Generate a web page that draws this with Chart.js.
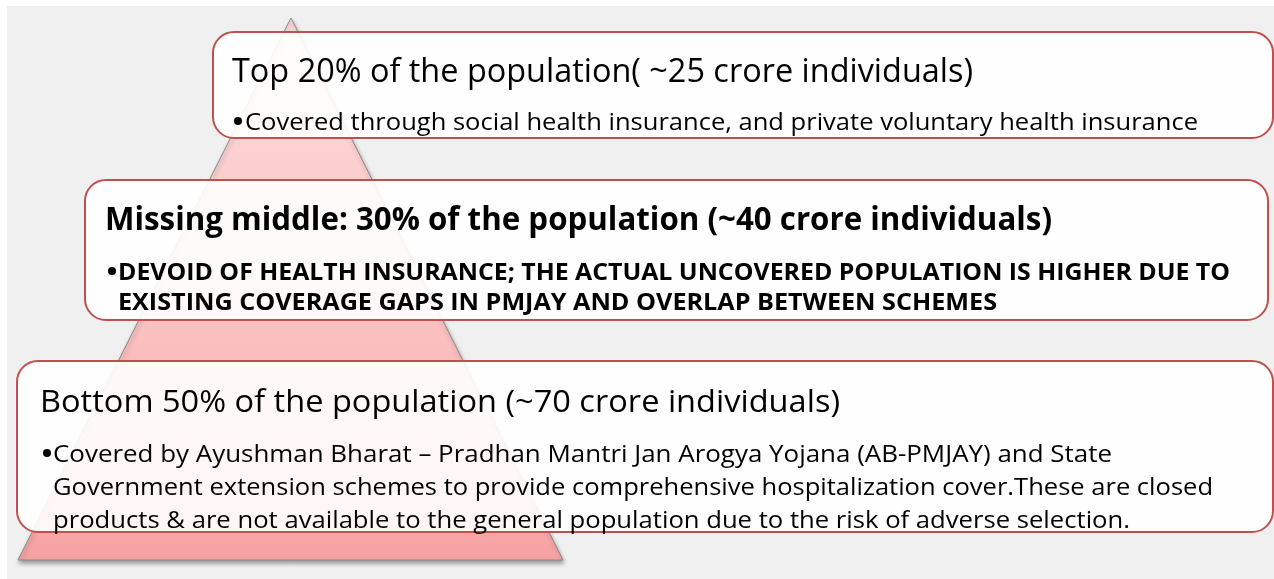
<!DOCTYPE html>
<html>
<head>
<meta charset="utf-8">
<script src="https://cdn.jsdelivr.net/npm/chart.js@4.4.1/dist/chart.umd.min.js"></script>
<style>
  html, body { margin: 0; padding: 0; background: #ffffff; }
  #wrap { width: 1274px; height: 579px; }
</style>
</head>
<body>
<div id="wrap"><canvas id="chart" width="1274" height="579"></canvas></div>
<script>
// Tiers of the population, top to bottom
const tierShare = [20, 30, 50];      // % of population
const tierCrore = [25, 40, 70];      // ~crore individuals
const tierTitles = [
    'Top 20% of the population( ~25 crore individuals)',
    'Missing middle: 30% of the population (~40 crore individuals)',
    'Bottom 50% of the population (~70 crore individuals)'
];
const tierBullets = [
    ['Covered through social health insurance, and private voluntary health insurance'],
    ['DEVOID OF HEALTH INSURANCE; THE ACTUAL UNCOVERED POPULATION IS HIGHER DUE TO',
     'EXISTING COVERAGE GAPS IN PMJAY AND OVERLAP BETWEEN SCHEMES'],
    ['Covered by Ayushman Bharat \u2013 Pradhan Mantri Jan Arogya Yojana (AB-PMJAY) and State',
     'Government extension schemes to provide comprehensive hospitalization cover.These are closed',
     'products & are not available to the general population due to the risk of adverse selection.']
];

// Layout (page units, same as the hidden axes)
const pyramidX = [18, 291, 563, 18];
const pyramidY = [560, 18, 560, 560];
const boxes = [
    { x0: 213, x1: 1273, y0: 32, y1: 138, bold: false,
      titleX: 232, titleEnd: 973, titleBase: 82, titleSize: 32,
      bulletX: 238, textX: 245, lineSize: 24.5, lineBase: [130], lineEnd: [1198] },
    { x0: 85, x1: 1268, y0: 180, y1: 320, bold: true,
      titleX: 105, titleEnd: 1052, titleBase: 230, titleSize: 32,
      bulletX: 112, textX: 118, lineSize: 24, lineBase: [280, 310], lineEnd: [1230, 997] },
    { x0: 17, x1: 1273, y0: 361, y1: 532, bold: false,
      titleX: 40, titleEnd: 840, titleBase: 412, titleSize: 31,
      bulletX: 47, textX: 53, lineSize: 24.5, lineBase: [462, 495, 528], lineEnd: [1112, 1213, 1130] }
];
const FONT = '"Open Sans", "Noto Sans", sans-serif';

// Draw a line of text squeezed to run from x to xEnd
function fitText(ctx, text, x, xEnd, base, font) {
    ctx.font = font;
    const w = ctx.measureText(text).width;
    ctx.save();
    ctx.translate(x, base);
    ctx.scale((xEnd - x) / w, 1);
    ctx.fillText(text, 0, 0);
    ctx.restore();
}

function roundRect(ctx, x0, y0, x1, y1, r) {
    ctx.beginPath();
    ctx.moveTo(x0 + r, y0);
    ctx.lineTo(x1 - r, y0);
    ctx.arcTo(x1, y0, x1, y0 + r, r);
    ctx.lineTo(x1, y1 - r);
    ctx.arcTo(x1, y1, x1 - r, y1, r);
    ctx.lineTo(x0 + r, y1);
    ctx.arcTo(x0, y1, x0, y1 - r, r);
    ctx.lineTo(x0, y0 + r);
    ctx.arcTo(x0, y0, x0 + r, y0, r);
    ctx.closePath();
}

const backdrop = {
    id: 'backdrop',
    beforeDraw(chart) {
        const { ctx, scales: { x, y } } = chart;
        ctx.save();
        ctx.fillStyle = '#f0f0f0';
        ctx.fillRect(x.getPixelForValue(7), y.getPixelForValue(6), chart.width, chart.height);
        ctx.restore();
    },
    beforeDatasetsDraw(chart) {
        const ctx = chart.ctx;
        ctx.save();
        ctx.shadowColor = 'rgba(0,0,0,0.35)';
        ctx.shadowOffsetX = 1;
        ctx.shadowOffsetY = 3;
        ctx.shadowBlur = 4;
    },
    afterDatasetsDraw(chart) {
        const { ctx, scales: { x, y } } = chart;
        ctx.restore();

        boxes.forEach((b, i) => {
            const x0 = x.getPixelForValue(b.x0), x1 = x.getPixelForValue(b.x1);
            const y0 = y.getPixelForValue(b.y0), y1 = y.getPixelForValue(b.y1);
            ctx.save();
            roundRect(ctx, x0, y0, x1, y1, 21);
            ctx.fillStyle = 'rgba(255,255,255,0.9)';
            ctx.fill();
            ctx.lineWidth = 2;
            ctx.strokeStyle = '#c0504d';
            ctx.stroke();

            ctx.fillStyle = '#000000';
            ctx.textBaseline = 'alphabetic';
            const weight = b.bold ? 'bold ' : '';
            fitText(ctx, tierTitles[i], x.getPixelForValue(b.titleX), x.getPixelForValue(b.titleEnd),
                    y.getPixelForValue(b.titleBase), weight + b.titleSize + 'px ' + FONT);

            const lineFont = weight + b.lineSize + 'px ' + FONT;
            tierBullets[i].forEach((line, j) => {
                const base = y.getPixelForValue(b.lineBase[j]);
                if (j === 0) {
                    ctx.beginPath();
                    ctx.arc(x.getPixelForValue(b.bulletX), base - 9, 4, 0, Math.PI * 2);
                    ctx.fill();
                }
                fitText(ctx, line, x.getPixelForValue(b.textX), x.getPixelForValue(b.lineEnd[j]), base, lineFont);
            });
            ctx.restore();
        });
    }
};

const pyramidData = pyramidX.map((px, i) => ({ x: px, y: pyramidY[i] }));

new Chart(document.getElementById('chart'), {
    type: 'line',
    data: {
        datasets: [{
            label: 'Population pyramid (' + tierShare.join('/') + '%, ' + tierCrore.join('/') + ' crore)',
            data: pyramidData,
            borderColor: '#8a8a8a',
            borderWidth: 1,
            pointRadius: 0,
            tension: 0,
            fill: 'shape',
            backgroundColor: (context) => {
                const { ctx, chartArea, scales } = context.chart;
                if (!chartArea) return '#f9b9b9';
                const top = scales.y.getPixelForValue(18);
                const bottom = scales.y.getPixelForValue(560);
                const g = ctx.createLinearGradient(0, top, 0, bottom);
                g.addColorStop(0, '#fddcdc');
                g.addColorStop(0.55, '#fbc2c2');
                g.addColorStop(1, '#f7a2a2');
                return g;
            }
        }]
    },
    options: {
        responsive: false,
        animation: false,
        layout: { padding: 0 },
        clip: false,
        plugins: {
            legend: { display: false },
            tooltip: { enabled: false },
            title: { display: false }
        },
        scales: {
            x: { type: 'linear', min: 0, max: 1274, display: false },
            y: { type: 'linear', min: 0, max: 579, reverse: true, display: false }
        }
    },
    plugins: [backdrop]
});
</script>
</body>
</html>
